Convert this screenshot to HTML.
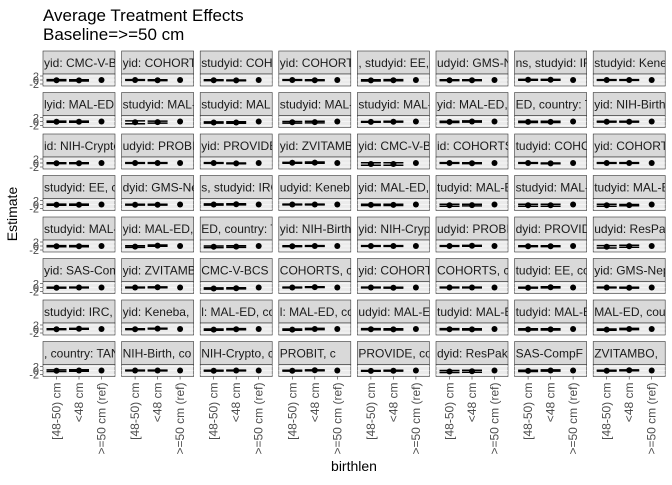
<!DOCTYPE html>
<html><head><meta charset="utf-8">
<style>
html,body{margin:0;padding:0;background:#fff;}
svg text{font-family:"Liberation Sans",sans-serif;}
</style></head>
<body>
<svg id="chart" width="672" height="480" viewBox="0 0 672 480" xmlns="http://www.w3.org/2000/svg">
<text x="43" y="21" font-size="17" fill="#000">Average Treatment Effects</text>
<text x="43" y="40" font-size="17" fill="#000">Baseline=&gt;=50 cm</text>
<text transform="translate(17,214) rotate(-90)" text-anchor="middle" font-size="14" fill="#000">Estimate</text>
<text x="354" y="471" text-anchor="middle" font-size="14" fill="#000">birthlen</text>
<g id="panels"></g>
</svg>
<script>
const categories = ["[48-50) cm", "<48 cm", ">=50 cm (ref)"];
const yTicks = [-2, 0, 2];
const stripLabels = [
"yid: CMC-V-B","yid: COHORTS","studyid: COHO","yid: COHORTS",", studyid: EE,","udyid: GMS-N","ns, studyid: IR","studyid: Keneb",
"lyid: MAL-ED,","studyid: MAL-","studyid: MAL","studyid: MAL-","studyid: MAL-","yid: MAL-ED, c","ED, country: T","yid: NIH-Birth,",
"id: NIH-Crypto","udyid: PROBI","yid: PROVIDE","yid: ZVITAMB","yid: CMC-V-BC","id: COHORTS","tudyid: COHO","yid: COHORTS",
"studyid: EE, c","dyid: GMS-Ne","s, studyid: IRC","udyid: Keneb","yid: MAL-ED, c","tudyid: MAL-E","studyid: MAL-","tudyid: MAL-E",
"studyid: MAL-","yid: MAL-ED, c","ED, country: TA","yid: NIH-Birth,","yid: NIH-Crypto,","udyid: PROBI","dyid: PROVIDE,","udyid: ResPak",
"yid: SAS-Com","yid: ZVITAMB","CMC-V-BCS","COHORTS, c","yid: COHORT","COHORTS, c","tudyid: EE, cou","yid: GMS-Nep",
"studyid: IRC,","yid: Keneba,","l: MAL-ED, co","l: MAL-ED, co","udyid: MAL-ED","tudyid: MAL-ED","tudyid: MAL-ED","MAL-ED, cou",
", country: TAN","NIH-Birth, co","NIH-Crypto, c","PROBIT, c","PROVIDE, co","dyid: ResPak, c","SAS-CompF","ZVITAMBO,"
];
const est1 = [-0.1,0,-0.1,0,-0.2,-0.1,0.1,0, -0.1,-0.4,-0.5,-0.4,-0.2,-0.2,-0.2,-0.1, -0.1,0,0,0.1,-0.5,0,0,0, -0.1,-0.1,0,0,-0.2,-0.4,-0.4,-0.4, -0.1,-0.3,-0.4,-0.1,0,0,-0.1,-0.4, -0.1,0,-0.5,0,0,0,-0.1,0, -0.1,-0.1,-0.3,-0.3,-0.1,-0.1,-0.2,-0.3, -0.1,0,-0.1,-0.1,-0.2,-0.5,-0.2,-0.1];
const est2 = [-0.2,-0.1,-0.2,-0.1,-0.1,-0.1,0.1,0, -0.1,-0.3,-0.5,-0.3,-0.1,0,-0.2,-0.1, -0.1,0,-0.2,0.2,-0.5,-0.1,-0.2,0, -0.1,-0.1,0.1,0, -0.2,-0.3,-0.4,-0.3, -0.1,0.2,-0.3,0,0,0.1,-0.1,-0.1, 0,0.1,-0.4,0.2,-0.1,0,0.1,-0.1, 0.1,0.2,-0.1,0,-0.2,-0.2,-0.2,0, 0,0,0,0.1,-0.1,-0.4,0,0.1];
const ci1 = [0.3,0.2,0.2,0.2,0.3,0.2,0.2,0.2, 0.3,0.7,0.3,0.4,0.2,0.3,0.3,0.2, 0.2,0.2,0.2,0.2,0.6,0.2,0.2,0.2, 0.3,0.2,0.3,0.2,0.3,0.5,0.5,0.5, 0.3,0.4,0.4,0.2,0.2,0.2,0.2,0.6, 0.2,0.2,0.3,0.2,0.2,0.2,0.2,0.2, 0.2,0.2,0.3,0.3,0.3,0.3,0.3,0.3, 0.4,0.2,0.2,0.2,0.2,0.5,0.3,0.2];
const ci2 = [0.3,0.2,0.2,0.2,0.3,0.2,0.2,0.2, 0.3,0.5,0.4,0.4,0.2,0.3,0.3,0.2, 0.2,0.2,0.2,0.3,0.6,0.2,0.2,0.2, 0.3,0.2,0.3,0.2,0.3,0.4,0.5,0.3, 0.3,0.3,0.4,0.2,0.2,0.2,0.2,0.5, 0.2,0.2,0.3,0.2,0.2,0.2,0.3,0.2, 0.2,0.2,0.3,0.3,0.3,0.3,0.3,0.3, 0.4,0.2,0.2,0.2,0.2,0.5,0.3,0.2];

const NS="http://www.w3.org/2000/svg";
const g=document.getElementById('panels');
function mk(tag,attrs,parent){const e=document.createElementNS(NS,tag);for(const k in attrs)e.setAttribute(k,attrs[k]);(parent||g).appendChild(e);return e;}
const left0=43, pitchX=78.6, pw=72, top0=51, pitchY=41.5, sh=23, ph=12;
const yMin=-3, yMax=3;
function xScale(col,i){return left0+col*pitchX+pw*(0.6+i)/3.2;}
function yScale(row,v){const t=top0+row*pitchY+sh;return t+ph-(v-yMin)/(yMax-yMin)*ph;}
const defs=mk('defs',{});
for(let r=0;r<8;r++){for(let c=0;c<8;c++){
  const k=r*8+c, x=left0+c*pitchX, y=top0+r*pitchY;
  const cp=mk('clipPath',{id:'cp'+k},defs);
  mk('rect',{x:x,y:y,width:pw,height:sh},cp);
  const strip=mk('rect',{x:x,y:y,width:pw,height:sh,fill:'#d9d9d9',stroke:'#333',"stroke-width":0.6});
  
  
  const st=mk('text',{x:x+1,y:y+16,"font-size":12,fill:'#1a1a1a',"clip-path":'url(#cp'+k+')'});
  st.textContent=stripLabels[k];
  
  
  const py=y+sh;
  const pb=mk('rect',{x:x,y:py,width:pw,height:ph,fill:'#ebebeb',stroke:'#333',"stroke-width":0.6});
  
  
  yTicks.forEach(t=>{mk('line',{x1:x,x2:x+pw,y1:yScale(r,t),y2:yScale(r,t),stroke:'#fff',"stroke-width":0.5});});
  const vals=[[est1[k],ci1[k]],[est2[k],ci2[k]],[0,0]];
  vals.forEach((v,i)=>{
    const cx=xScale(c,i);
    if(i<2){
      const lo=yScale(r,v[0]-v[1]), hi=yScale(r,v[0]+v[1]);
      const eb=mk('g',{});
      
      
      mk('line',{x1:cx,x2:cx,y1:lo,y2:hi,stroke:'#000',"stroke-width":1.5},eb);
      mk('line',{x1:cx-10,x2:cx+10,y1:lo,y2:lo,stroke:'#000',"stroke-width":1.5},eb);
      mk('line',{x1:cx-10,x2:cx+10,y1:hi,y2:hi,stroke:'#000',"stroke-width":1.5},eb);
    }
    const pt=mk('circle',{cx:cx,cy:yScale(r,v[0]),r:3,fill:'#000'});
    
    
  });
  if(c===0){
    yTicks.forEach(t=>{
      const ty=yScale(r,t);
      mk('line',{x1:x-3,x2:x,y1:ty,y2:ty,stroke:'#333',"stroke-width":0.6});
      const tl=mk('text',{x:x-4,y:ty+4,"font-size":11,"text-anchor":'end',fill:'#4d4d4d'});
      tl.textContent=String(t);
      
      
    });
  }
  if(r===7){
    categories.forEach((cat,i)=>{
      const cx=xScale(c,i);
      mk('line',{x1:cx,x2:cx,y1:py+ph,y2:py+ph+3,stroke:'#333',"stroke-width":0.6});
      const xl=mk('text',{transform:'translate('+(cx+4)+','+(py+ph+6)+') rotate(-90)',"font-size":12,"text-anchor":'end',fill:'#4d4d4d'});
      xl.textContent=cat;
      
      
    });
  }
}}
</script>
</body></html>
